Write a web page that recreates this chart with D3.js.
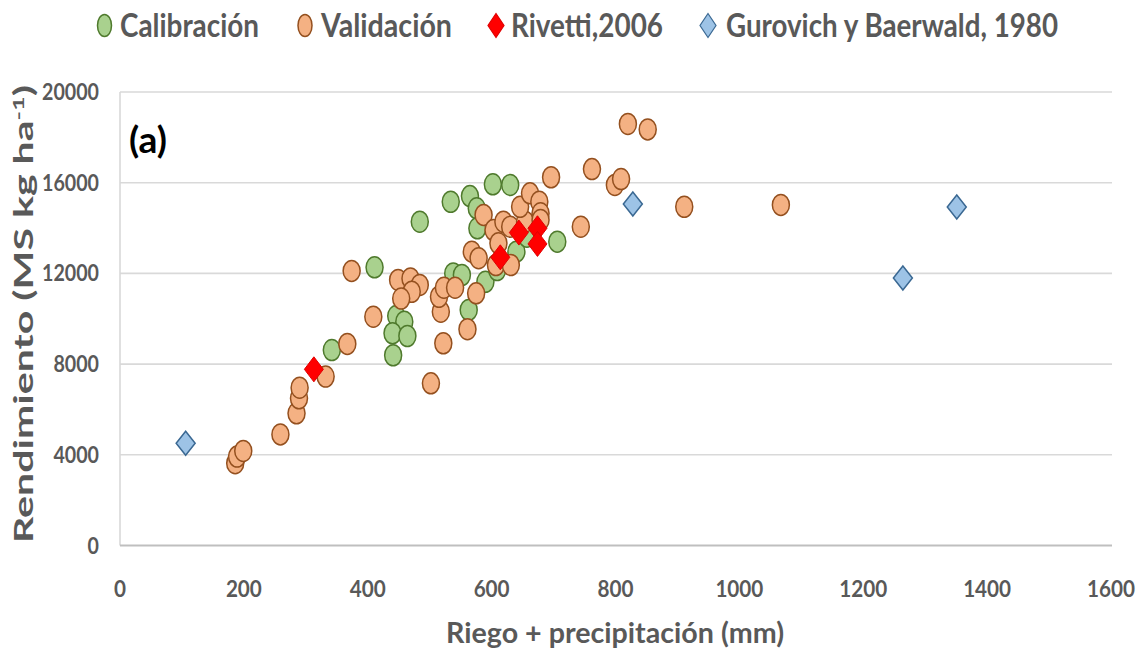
<!DOCTYPE html>
<html>
<head>
<meta charset="utf-8">
<script src="https://cdn.jsdelivr.net/npm/d3@7"></script>
<style>
  html, body { margin: 0; padding: 0; background: #ffffff; }
  svg { display: block; }
  text { font-family: Lato, "Open Sans", sans-serif; font-weight: 700; }
</style>
</head>
<body>
<svg id="chart" width="1145" height="658"></svg>
<script>
// ---------- data ----------
const calibX = [342, 411, 446, 459, 440, 464, 441, 538, 552, 563, 590, 484, 534, 565, 602, 630, 576, 577, 609, 640, 657, 706];
const calibY = [8620, 12270, 10120, 9870, 9360, 9240, 8390, 12000, 11930, 10390, 11630, 14280, 15160, 15410, 15930, 15900, 14870, 13990, 12150, 12960, 13620, 13400];

const validX = [186, 189, 199, 259, 285, 289, 290, 332, 367, 374, 409, 449, 469, 484, 471, 454, 502, 522, 518, 515, 523, 541, 575, 561, 568, 579, 587, 603, 619, 611, 607, 631, 630, 654, 646, 662, 677, 679, 679, 696, 744, 762, 799, 809, 911, 1067, 820, 852];
const validY = [3630, 3920, 4170, 4900, 5830, 6490, 6960, 7450, 8890, 12110, 10090, 11710, 11780, 11490, 11190, 10890, 7150, 8920, 10310, 10970, 11370, 11370, 11120, 9540, 12960, 12670, 14580, 13910, 14280, 13330, 12370, 12370, 14060, 14280, 14940, 15530, 15160, 14650, 14360, 16240, 14060, 16600, 15900, 16160, 14940, 15020, 18590, 18350];

const rivX = [313, 614, 644, 674, 674];
const rivY = [7770, 12710, 13800, 13990, 13300];

const gurX = [106, 828, 1264, 1351];
const gurY = [4510, 15060, 11800, 14930];

const xTicks = [0, 200, 400, 600, 800, 1000, 1200, 1400, 1600];
const yTicks = [0, 4000, 8000, 12000, 16000, 20000];

const seriesNames = ["Calibración", "Validación", "Rivetti,2006", "Gurovich y Baerwald, 1980"];
const xTitle = "Riego + precipitación (mm)";
const panelLabel = "(a)";

// ---------- layout ----------
const svg = d3.select("#chart");
const mLeft = 120, mRight = 1111, mTop = 92, mBottom = 545.5;
const x = d3.scaleLinear().domain([0, 1600]).range([mLeft, mRight]);
const y = d3.scaleLinear().domain([0, 20000]).range([mBottom, mTop]);

const gray = "#595959";

// gridlines
svg.append("g").selectAll("line").data(yTicks.filter(d => d > 0)).join("line")
  .attr("x1", mLeft).attr("x2", mRight + 1)
  .attr("y1", d => y(d)).attr("y2", d => y(d))
  .attr("stroke", "#d9d9d9").attr("stroke-width", 1.6);

// left axis line
svg.append("line").attr("x1", mLeft).attr("x2", mLeft).attr("y1", mTop).attr("y2", mBottom)
  .attr("stroke", "#d9d9d9").attr("stroke-width", 1.6);
// bottom axis line
svg.append("line").attr("x1", mLeft).attr("x2", mRight + 1).attr("y1", mBottom).attr("y2", mBottom)
  .attr("stroke", "#bfbfbf").attr("stroke-width", 2);

// y tick labels
svg.append("g").selectAll("text").data(yTicks).join("text")
  .attr("x", 99).attr("y", d => y(d) + 8)
  .attr("text-anchor", "end")
  .attr("font-size", 22).attr("fill", gray)
  .attr("textLength", d => String(d).length * 11.4)
  .attr("lengthAdjust", "spacingAndGlyphs")
  .text(d => d);

// x tick labels
svg.append("g").selectAll("text").data(xTicks).join("text")
  .attr("x", d => x(d)).attr("y", 597)
  .attr("text-anchor", "middle")
  .attr("font-size", 23).attr("fill", gray)
  .attr("textLength", d => String(d).length * 12)
  .attr("lengthAdjust", "spacingAndGlyphs")
  .text(d => d);

// axis titles
svg.append("text").attr("x", 615).attr("y", 643).attr("text-anchor", "middle")
  .attr("font-size", 29).attr("fill", gray)
  .attr("textLength", 338).attr("lengthAdjust", "spacingAndGlyphs")
  .text(xTitle);

const yt = svg.append("text")
  .attr("transform", "translate(33,314) rotate(-90)")
  .attr("text-anchor", "middle")
  .attr("font-size", 26).attr("fill", gray)
  .attr("textLength", 458).attr("lengthAdjust", "spacingAndGlyphs");
yt.append("tspan").text("Rendimiento (MS kg ha");
yt.append("tspan").attr("font-size", 16).attr("dy", -9).text("-1");
yt.append("tspan").attr("dy", 9).text(")");

// panel label
svg.append("text").attr("x", 129).attr("y", 153)
  .attr("font-size", 36).attr("fill", "#000000")
  .attr("textLength", 38).attr("lengthAdjust", "spacingAndGlyphs")
  .text(panelLabel);

// ---------- marks ----------
const RX = 8.5, RY = 10.5;
function diamondPath(cx, cy, hw, hh) {
  return `M${cx},${cy - hh}L${cx + hw},${cy}L${cx},${cy + hh}L${cx - hw},${cy}Z`;
}

svg.append("g").selectAll("ellipse").data(d3.zip(calibX, calibY)).join("ellipse")
  .attr("cx", d => x(d[0])).attr("cy", d => y(d[1]))
  .attr("rx", RX).attr("ry", RY)
  .attr("fill", "#a9d18e").attr("stroke", "#4f7a2d").attr("stroke-width", 1.5);

svg.append("g").selectAll("ellipse").data(d3.zip(validX, validY)).join("ellipse")
  .attr("cx", d => x(d[0])).attr("cy", d => y(d[1]))
  .attr("rx", RX).attr("ry", RY)
  .attr("fill", "#f4b183").attr("stroke", "#94501f").attr("stroke-width", 1.5);

svg.append("g").selectAll("path").data(d3.zip(rivX, rivY)).join("path")
  .attr("d", d => diamondPath(x(d[0]), y(d[1]), 9.5, 12.5))
  .attr("fill", "#ff0000").attr("stroke", "#e00000").attr("stroke-width", 1);

svg.append("g").selectAll("path").data(d3.zip(gurX, gurY)).join("path")
  .attr("d", d => diamondPath(x(d[0]), y(d[1]), 9.5, 12))
  .attr("fill", "#9dc3e6").attr("stroke", "#3a6892").attr("stroke-width", 1.5);

// ---------- legend ----------
const legendItems = [
  { name: seriesNames[0], mx: 104.5, tx: 120, tw: 139, shape: "circle", fill: "#a9d18e", stroke: "#4f7a2d" },
  { name: seriesNames[1], mx: 305, tx: 321, tw: 131, shape: "circle", fill: "#f4b183", stroke: "#94501f" },
  { name: seriesNames[2], mx: 496, tx: 511, tw: 152, shape: "diamond", fill: "#ff0000", stroke: "#e00000" },
  { name: seriesNames[3], mx: 708, tx: 726, tw: 332, shape: "diamond", fill: "#9dc3e6", stroke: "#3a6892" }
];
const lg = svg.append("g");
legendItems.forEach(it => {
  if (it.shape === "circle") {
    lg.append("ellipse").attr("cx", it.mx).attr("cy", 25.5).attr("rx", 7).attr("ry", 11)
      .attr("fill", it.fill).attr("stroke", it.stroke).attr("stroke-width", 1.5);
  } else {
    lg.append("path").attr("d", diamondPath(it.mx, 25.5, 8, 12))
      .attr("fill", it.fill).attr("stroke", it.stroke).attr("stroke-width", 1.2);
  }
  lg.append("text").attr("x", it.tx).attr("y", 37)
    .attr("font-size", 32).attr("fill", gray)
    .attr("textLength", it.tw).attr("lengthAdjust", "spacingAndGlyphs")
    .text(it.name);
});
</script>
</body>
</html>
